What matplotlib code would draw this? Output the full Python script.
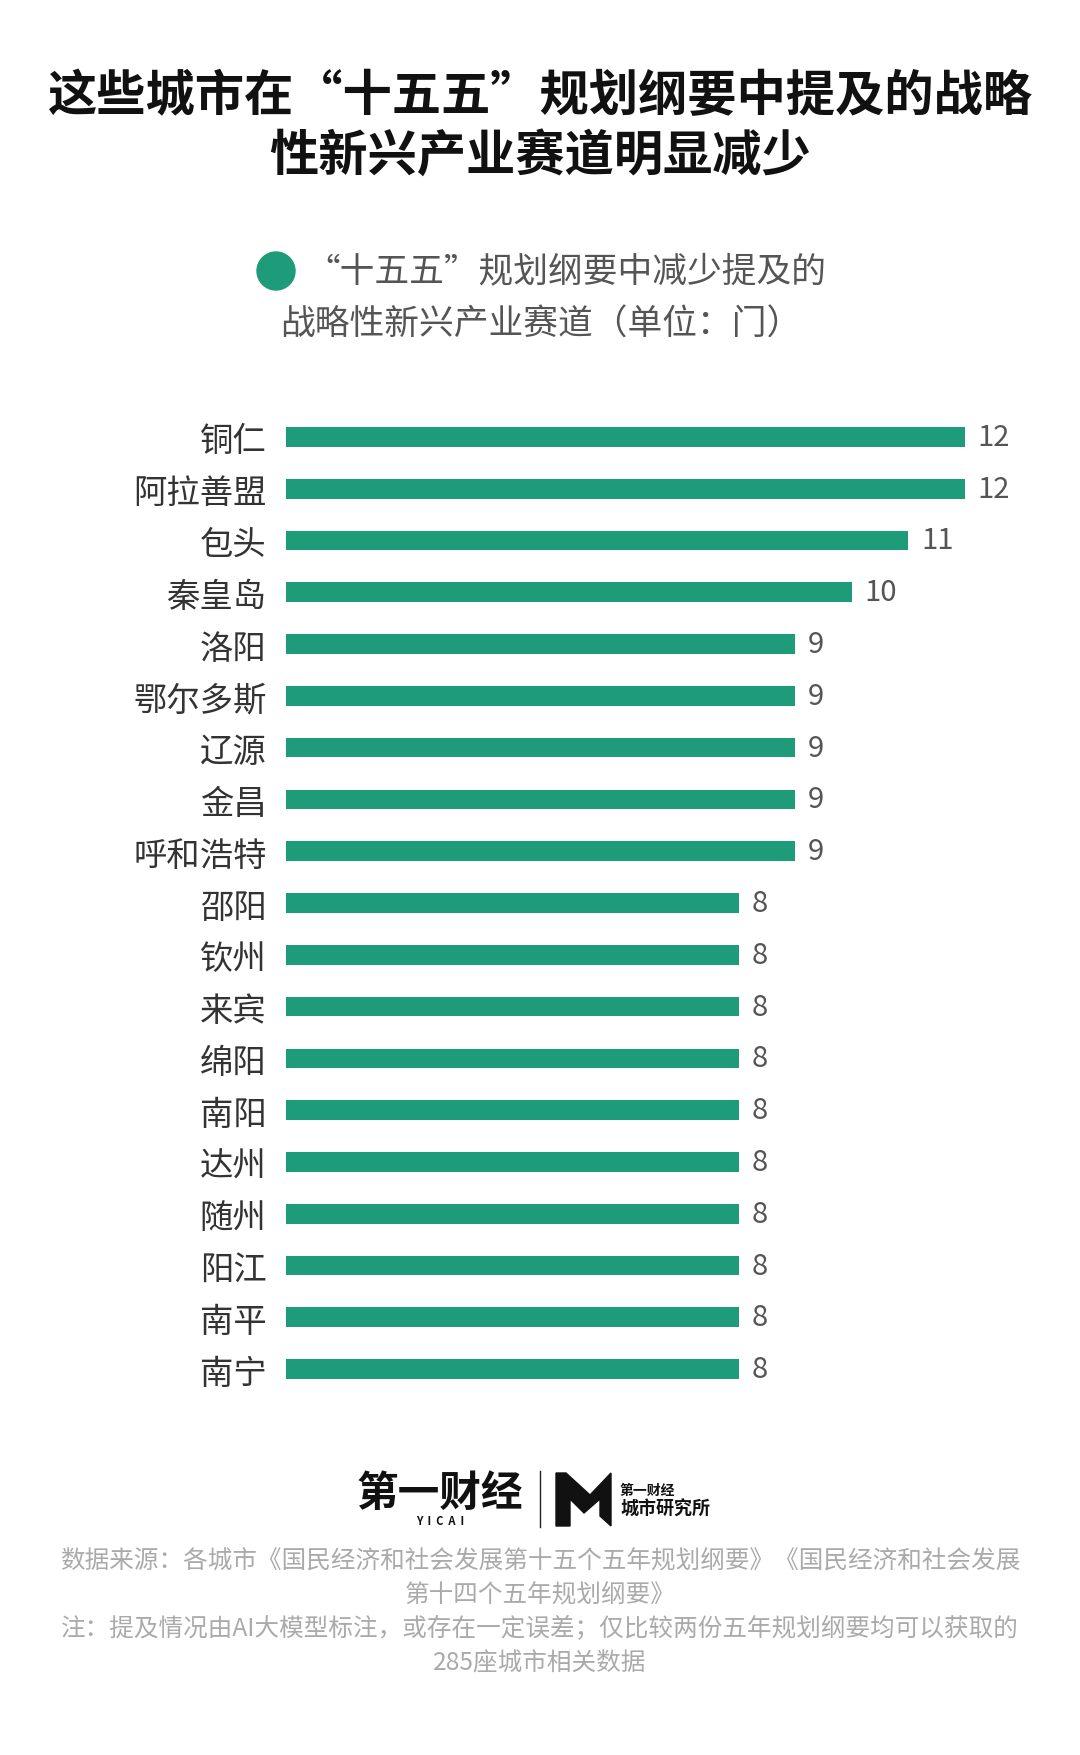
import matplotlib
matplotlib.use("Agg")
import matplotlib.pyplot as plt
from matplotlib.patches import Ellipse, Polygon
from matplotlib.lines import Line2D

plt.rcParams['font.family'] = ['Noto Sans CJK SC', 'DejaVu Sans']

# data
cities = ["铜仁", "阿拉善盟", "包头", "秦皇岛", "洛阳", "鄂尔多斯", "辽源", "金昌",
          "呼和浩特", "邵阳", "钦州", "来宾", "绵阳", "南阳", "达州", "随州",
          "阳江", "南平", "南宁"]
counts = [12, 12, 11, 10, 9, 9, 9, 9, 9, 8, 8, 8, 8, 8, 8, 8, 8, 8, 8]

title_lines = ["这些城市在“十五五”规划纲要中提及的战略", "性新兴产业赛道明显减少"]
legend_lines = ["“十五五”规划纲要中减少提及的", "战略性新兴产业赛道（单位：门）"]
note_lines = [
    "数据来源：各城市《国民经济和社会发展第十五个五年规划纲要》《国民经济和社会发展",
    "第十四个五年规划纲要》",
    "注：提及情况由AI大模型标注，或存在一定误差；仅比较两份五年规划纲要均可以获取的",
    "285座城市相关数据",
]

GREEN = "#1e9b79"
W, H = 1080, 1756
fig = plt.figure(figsize=(W / 100, H / 100), dpi=100)
fig.patch.set_facecolor("white")


def px(x, y):
    return x / W, 1 - y / H


# title
for i, line in enumerate(title_lines):
    fig.text(*px(540, 97 + i * 59), line, ha="center", va="center",
             fontsize=35.5, fontweight="bold", color="#111111")

# legend
fig.patches.append(Ellipse(px(276, 272), 38 / W, 38 / H, transform=fig.transFigure,
                           color=GREEN, zorder=3))
fig.text(*px(566, 272), legend_lines[0], ha="center", va="center",
         fontsize=25, fontweight="light", color="#555555")
fig.text(*px(541, 325), legend_lines[1], ha="center", va="center",
         fontsize=25, fontweight="light", color="#555555")

# bars
top, bottom = 412, 1396
left, right = 286, 965
ax = fig.add_axes([left / W, 1 - bottom / H, (right - left) / W, (bottom - top) / H])
ypos = list(range(len(cities)))
ax.barh(ypos, counts, height=0.38, color=GREEN)
ax.set_xlim(0, max(counts))
ax.set_ylim(len(cities) - 0.5, -0.5)
ax.set_yticks(ypos)
ax.set_yticklabels(cities, fontsize=24, fontweight="light", color="#333333")
ax.tick_params(axis="y", length=0, pad=14)
ax.set_xticks([])
for s in ax.spines.values():
    s.set_visible(False)
for y, v in zip(ypos, counts):
    ax.annotate(str(v), (v, y), xytext=(9, 0), textcoords="offset points",
                ha="left", va="center", fontsize=21, fontweight="light",
                color="#555555", annotation_clip=False)

# logo
fig.text(*px(440, 1494), "第一财经", ha="center", va="center", fontsize=30,
         fontweight="black", color="#111111")
fig.text(*px(440, 1522), "Y  I  C  A  I", ha="center", va="center", fontsize=8,
         fontweight="bold", color="#111111")
fig.lines.append(Line2D([540 / W, 540 / W], [1 - 1472 / H, 1 - 1528 / H],
                        transform=fig.transFigure, color="#222222", lw=1))
sym = [(556, 1474), (566, 1474), (590, 1496), (611, 1474), (611, 1527),
       (600, 1517), (600, 1500), (584, 1514), (570, 1500), (570, 1527), (556, 1527)]
fig.patches.append(Polygon([px(x, y) for x, y in sym], closed=True,
                           transform=fig.transFigure, color="#111111"))
fig.text(*px(620, 1491), "第一财经", ha="left", va="center", fontsize=10,
         fontweight="bold", color="#111111")
fig.text(*px(620, 1509), "城市研究所", ha="left", va="center", fontsize=13,
         fontweight="bold", color="#111111")

# notes
for i, line in enumerate(note_lines):
    fig.text(*px(540, 1561 + i * 34), line, ha="center", va="center",
             fontsize=17.7, fontweight="light", color="#aaaaaa")

fig.savefig("out.png", dpi=100, facecolor="white")
